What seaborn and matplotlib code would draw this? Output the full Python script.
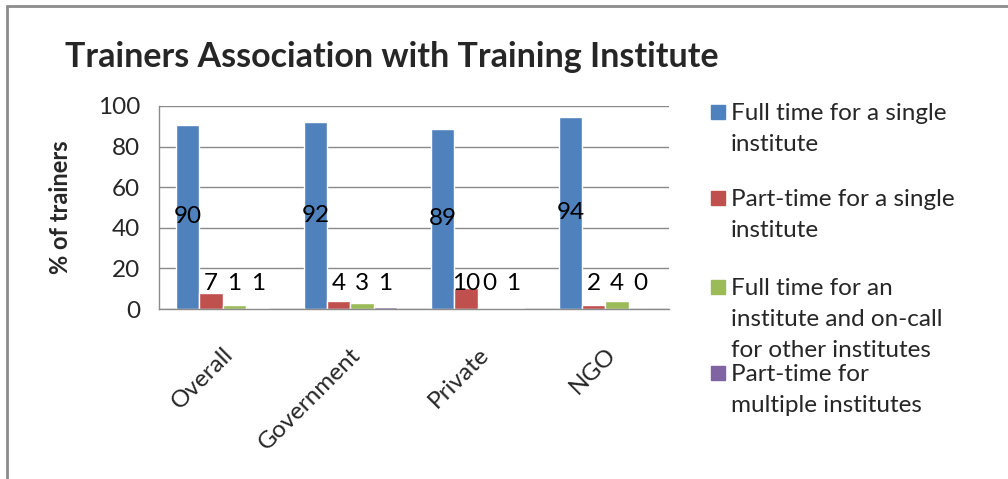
import numpy as np
import pandas as pd
import matplotlib
matplotlib.use("Agg")
import matplotlib.pyplot as plt
from matplotlib.lines import Line2D
from matplotlib.patches import Rectangle
import seaborn as sns

# data
sectors = ['Overall', 'Government', 'Private', 'NGO']
series = ['Full time for a single\ninstitute',
          'Part-time for a single\ninstitute',
          'Full time for an\ninstitute and on-call\nfor other institutes',
          'Part-time for\nmultiple institutes']
full_single = [90.8, 92.1, 88.9, 94.8]
part_single = [7.7, 3.8, 10.1, 2.0]
full_oncall = [2.0, 3.2, 0.6, 3.9]
part_multi = [0.7, 1.2, 0.7, 0.0]
# numbers printed on the bars
lab_full_single = [90, 92, 89, 94]
lab_part_single = [7, 4, 10, 2]
lab_full_oncall = [1, 3, 0, 4]
lab_part_multi = [1, 1, 1, 0]
colors = ['#4F81BD', '#C0504D', '#9BBB59', '#8064A2']

values = [full_single, part_single, full_oncall, part_multi]
labels = [lab_full_single, lab_part_single, lab_full_oncall, lab_part_multi]

df = pd.DataFrame({
    'sector': sectors * 4,
    'series': np.repeat(series, 4),
    'pct': np.concatenate(values),
})

sns.set_style('white')
plt.rcParams['font.family'] = ['Lato', 'DejaVu Sans']

W, H = 1008, 479
fs = 17.5
fig = plt.figure(figsize=(W / 100, H / 100), dpi=100)
ax = fig.add_axes([159 / W, 1 - 309 / H, (669 - 159) / W, (309 - 106) / H])

sns.barplot(data=df, x='sector', y='pct', hue='series', palette=colors,
            saturation=1, width=0.73, legend=False, ax=ax, errorbar=None)

ax.set_ylim(0, 100)
ax.set_yticks(range(0, 101, 20))
ax.set_xlabel('')
ax.set_ylabel('')
ax.yaxis.grid(True, color='#8a8a8a', linewidth=1)
ax.set_axisbelow(True)
for s in ['top', 'right']:
    ax.spines[s].set_visible(False)
for s in ['left', 'bottom']:
    ax.spines[s].set_color('#8a8a8a')
    ax.spines[s].set_linewidth(1)
ax.tick_params(axis='y', length=6.5, color='#8a8a8a', width=1, pad=7, labelsize=fs)
ax.tick_params(axis='x', length=0, pad=25, labelsize=fs)
plt.setp(ax.get_xticklabels(), rotation=45, ha='right', rotation_mode='anchor')

# data labels
for cont, labs in zip(ax.containers, labels):
    for bar, lab in zip(cont, labs):
        h = bar.get_height()
        ax.text(bar.get_x() + bar.get_width() / 2, max(h / 2, 12.8), str(lab),
                ha='center', va='center', fontsize=fs, color='black')

# title and y label
fig.text(65 / W, 1 - 57 / H, 'Trainers Association with Training Institute',
         fontsize=24.5, weight='bold', va='center', ha='left')
fig.text(60 / W, 1 - 207 / H, '% of trainers', rotation=90, fontsize=17,
         weight='bold', va='center', ha='center')

# legend drawn by hand so the markers sit on the first text line
leg_y = [112, 198, 287, 373]
for name, c, y in zip(series, colors, leg_y):
    fig.patches.append(Rectangle((711 / W, 1 - (y + 7) / H), 14 / W, 14 / H,
                                 transform=fig.transFigure, color=c))
    fig.text(731 / W, 1 - (y - 9) / H, name, fontsize=fs, va='top', ha='left',
             linespacing=1.6)

# outer frame of the chart area
fig.add_artist(Line2D([7 / W, 7 / W], [0, 1 - 6 / H], transform=fig.transFigure,
                      color='#8c8c8c', linewidth=2))
fig.add_artist(Line2D([7 / W, 1], [1 - 6 / H, 1 - 6 / H], transform=fig.transFigure,
                      color='#8c8c8c', linewidth=2))

fig.savefig('out.png', dpi=100)
